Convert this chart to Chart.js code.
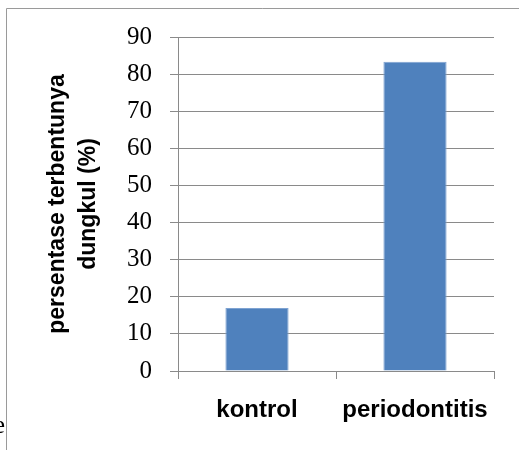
<!DOCTYPE html>
<html>
<head>
<meta charset="utf-8">
<script src="https://cdn.jsdelivr.net/npm/chart.js@4"></script>
<style>
  html, body { margin: 0; padding: 0; background: #fff; }
  #wrap { width: 519px; height: 450px; }
</style>
</head>
<body>
<div id="wrap"><canvas id="chart" width="519" height="450"></canvas></div>
<script>
const categories = ["kontrol", "periodontitis"];
const values = [17, 83.3];
const yTicks = [0, 10, 20, 30, 40, 50, 60, 70, 80, 90];
const axisTitle = ["persentase terbentunya", "dungkul (%)"];

const gridGray = "#8a8a8a";
const barBlue = "#4f81bd";

// outer frame + stray glyph at bottom left of the original scan
const framePlugin = {
  id: "frame",
  beforeDraw(chart) {
    const ctx = chart.ctx;
    ctx.save();
    ctx.fillStyle = "#fff";
    ctx.fillRect(0, 0, chart.width, chart.height);
    ctx.strokeStyle = "#9a9a9a";
    ctx.lineWidth = 1;
    ctx.beginPath();
    ctx.moveTo(6.5, chart.height);
    ctx.lineTo(6.5, 8.5);
    ctx.lineTo(chart.width, 8.5);
    ctx.stroke();
    ctx.fillStyle = "#000";
    ctx.font = "26px 'Liberation Serif'";
    ctx.textAlign = "right";
    ctx.textBaseline = "alphabetic";
    ctx.fillText("e", 5, 433);
    ctx.restore();
  }
};

new Chart(document.getElementById("chart").getContext("2d"), {
  type: "bar",
  data: {
    labels: categories,
    datasets: [
      {
        data: values,
        backgroundColor: barBlue,
        borderColor: "#7ea3d2",
        borderWidth: 1,
        barPercentage: 0.4,
        categoryPercentage: 1.0,
      },
    ],
  },
  options: {
    responsive: false,
    animation: false,
    layout: { padding: { top: 37, right: 25, left: 0, bottom: 0 } },
    plugins: {
      legend: { display: false },
      tooltip: { enabled: false },
    },
    scales: {
      x: {
        grid: {
          drawOnChartArea: false,
          drawTicks: true,
          tickLength: 8,
          color: gridGray,
          offset: true,
        },
        border: { display: true, color: gridGray },
        ticks: {
          color: "#000",
          padding: 17,
          font: { family: "Liberation Sans", size: 24, weight: "bold" },
        },
        afterFit(scale) {
          scale.height = 79;
        },
      },
      y: {
        min: 0,
        max: 90,
        afterBuildTicks(scale) {
          scale.ticks = yTicks.map((v) => ({ value: v }));
        },
        grid: { color: gridGray, tickLength: 8 },
        border: { display: true, color: gridGray },
        ticks: {
          color: "#000",
          padding: 18,
          font: { family: "Liberation Serif", size: 25 },
        },
        title: {
          display: true,
          text: axisTitle,
          color: "#000",
          padding: { top: 42.5, bottom: 0 },
          font: { family: "Liberation Sans", size: 23, weight: "bold", lineHeight: 31 / 23 },
        },
        afterFit(scale) {
          scale.width = 178;
        },
      },
    },
  },
  plugins: [framePlugin],
});
</script>
</body>
</html>
